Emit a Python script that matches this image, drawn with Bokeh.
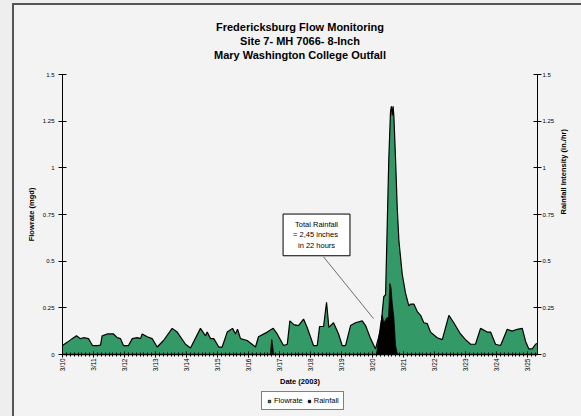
import math
from bokeh.plotting import figure
from bokeh.layouts import column
from bokeh.models import Range1d, LinearAxis, FixedTicker, Label, Legend, LegendItem, Arrow, Title
from bokeh.embed import file_html
from bokeh.resources import INLINE

# ---------------- data ----------------
title_lines = ["Fredericksburg Flow Monitoring",
               "Site 7- MH 7066- 8-Inch",
               "Mary Washington College Outfall"]
note_text = "Total Rainfall\n= 2,45  inches\nin 22 hours"
day_labels = ["3/10", "3/11", "3/12", "3/13", "3/14", "3/15", "3/16", "3/17",
              "3/18", "3/19", "3/20", "3/21", "3/22", "3/23", "3/24", "3/25"]
y_ticks = [0, 0.25, 0.5, 0.75, 1, 1.25, 1.5]
y_tick_labels = ["0", "0.25", "0.5", "0.75", "1", "1.25", "1.5"]

# hours since 3/10 00:00
flow_hours = [0, 3.6, 7.5, 10.8, 13.9, 16.3, 20.1, 23.2, 26.9, 29.4, 30.7, 34.6,
              39.5, 42.3, 44.9, 47.2, 51.1, 54.0, 57.8, 60.4, 61.7, 65.6, 69.4,
              73.3, 78.2, 84.9, 88.8, 95.2, 99.1, 106.8, 110.7, 112.0, 114.6,
              117.1, 121.0, 123.6, 127.5, 131.6, 133.9, 135.5, 137.8, 143.0,
              149.4, 151.7, 158.5, 163.1, 166.2, 171.1, 174.0, 176.0, 179.1,
              182.7, 186.6, 189.4, 194.3, 197.2, 199.0, 202.1, 204.4, 206.2,
              209.8, 213.7, 216.5, 219.1, 223.0, 226.8, 232.0, 234.6, 238.5,
              242.3, 246.2, 248.7, 250.1, 251.4, 252.6, 253.9, 254.6, 255.3,
              255.9, 256.5, 257.8, 259.1, 260.4, 263.0, 265.5, 268.1, 269.4,
              272.0, 274.6, 277.2, 279.7, 282.4, 284.9, 290.1, 294.0, 299.1,
              302.9, 308.1, 312.0, 315.9, 319.7, 323.6, 328.8, 331.4, 335.2,
              339.1, 344.3, 348.1, 352.0, 355.9, 358.5, 361.0, 363.6, 366.2, 367.7]
flow_mgd = [0.048, 0.065, 0.085, 0.10, 0.085, 0.09, 0.085, 0.048, 0.048, 0.05, 0.10, 0.11,
            0.11, 0.09, 0.085, 0.048, 0.048, 0.085, 0.09, 0.085, 0.11, 0.095, 0.085,
            0.04, 0.075, 0.14, 0.12, 0.055, 0.035, 0.14, 0.10, 0.12, 0.085,
            0.085, 0.04, 0.04, 0.12, 0.14, 0.11, 0.135, 0.085, 0.075,
            0.04, 0.095, 0.12, 0.14, 0.11, 0.048, 0.055, 0.18, 0.16,
            0.155, 0.19, 0.145, 0.048, 0.048, 0.15, 0.15, 0.28, 0.145,
            0.17, 0.11, 0.048, 0.048, 0.155, 0.17, 0.18, 0.155, 0.085,
            0.03, 0.13, 0.31, 0.32, 0.70, 1.05, 1.30, 1.33, 1.28,
            1.33, 1.28, 1.05, 0.79, 0.61, 0.43, 0.33, 0.26, 0.27,
            0.27, 0.23, 0.21, 0.17, 0.165, 0.12, 0.09, 0.08, 0.21,
            0.17, 0.11, 0.08, 0.055, 0.055, 0.14, 0.12, 0.12, 0.055,
            0.048, 0.135, 0.125, 0.135, 0.14, 0.07, 0.03, 0.03, 0.055, 0.06]

rain_hours = [0, 161.0, 161.4, 162.0, 162.8, 163.4, 243.1, 244.6, 246.2, 247.5, 248.7,
              251.4, 252.4, 253.4, 254.3, 255.3, 256.5, 257.8, 259.0, 260.1, 367.7]
rain_inhr = [0, 0, 0.04, 0.08, 0.04, 0, 0, 0.08, 0.16, 0.21, 0.17,
             0.20, 0.19, 0.38, 0.36, 0.27, 0.20, 0.05, 0.01, 0, 0]

# ---------------- figure ----------------
GREEN = "#339966"
BG = "#f3f3f3"
FONT = "Liberation Sans"

flow_days = [h / 24 for h in flow_hours]
rain_days = [h / 24 for h in rain_hours]

p = figure(width=567, height=384, output_backend="svg", toolbar_location=None,
           x_range=Range1d(0, flow_days[-1]), y_range=Range1d(0, 1.5),
           min_border_left=48, min_border_right=44, min_border_top=69, min_border_bottom=35,
           background_fill_color=BG, border_fill_color=BG, outline_line_color=None,
           title=None)
p.extra_y_ranges = {"rain": Range1d(0, 1.5)}
p.xgrid.visible = False
p.ygrid.visible = False

p.varea(x=flow_days, y1=0, y2=flow_mgd, fill_color=GREEN)
p.line(x=flow_days, y=flow_mgd, line_color="black", line_width=1.2)
p.varea(x=rain_days, y1=0, y2=rain_inhr, fill_color="black", y_range_name="rain")
p.line(x=rain_days, y=rain_inhr, line_color="black", line_width=0.8, y_range_name="rain")


def style_axis(ax):
    ax.axis_line_color = "black"
    ax.major_tick_line_color = "black"
    ax.major_label_text_font = FONT
    ax.major_label_text_color = "black"
    ax.axis_label_text_font = FONT
    ax.axis_label_text_color = "black"
    ax.axis_label_text_font_style = "bold"
    ax.axis_label_text_font_size = "7.5px"
    ax.major_label_text_font_size = "6px"


yl = p.yaxis[0]
style_axis(yl)
yl.ticker = FixedTicker(ticks=y_ticks)
yl.major_label_overrides = {t: s for t, s in zip(y_ticks, y_tick_labels)}
yl.major_tick_in = 4
yl.major_tick_out = 4
yl.minor_tick_line_color = None
yl.major_label_standoff = 4
yl.axis_label = "Flowrate (mgd)"
yl.axis_label_standoff = 4

yr = LinearAxis(y_range_name="rain")
style_axis(yr)
yr.ticker = FixedTicker(ticks=y_ticks)
yr.major_label_overrides = {t: s for t, s in zip(y_ticks, y_tick_labels)}
yr.major_tick_in = 4
yr.major_tick_out = 4
yr.minor_tick_line_color = None
yr.major_label_standoff = 1
yr.axis_label = "Rainfall Intensity (in./hr)"
yr.axis_label_standoff = 6
yr.axis_label_orientation = math.pi / 2
p.add_layout(yr, "right")

xa = p.xaxis[0]
style_axis(xa)
day_ticks = list(range(len(day_labels)))
xa.ticker = FixedTicker(ticks=day_ticks,
                        minor_ticks=[d / 8 for d in range(0, 8 * len(day_labels))])
xa.major_label_overrides = {t: s for t, s in zip(day_ticks, day_labels)}
xa.major_label_orientation = math.pi / 2
xa.major_label_text_font_size = "6.5px"
xa.major_tick_in = 3
xa.major_tick_out = 3
xa.minor_tick_in = 2
xa.minor_tick_out = 2
xa.minor_tick_line_color = "black"
xa.axis_line_width = 1.5
xa.major_label_standoff = 1
xa.axis_label = "Date (2003)"
xa.axis_label_standoff = 3

# blank spacer between plot and title block, then title lines (closest first)
p.add_layout(Title(text=" ", text_font=FONT, text_font_size="11px", standoff=0), "above")
for i, t in reversed(list(enumerate(title_lines))):
    p.add_layout(Title(text=t, align="center", offset=6, text_font=FONT,
                       text_font_style="bold", text_font_size="11px",
                       text_color="black", standoff=0), "above")

# note box and leader line
p.add_layout(Label(x=(316 - 62) / 31, y=(354 - 234) / 187.3, text=note_text,
                   text_align="center", text_baseline="middle", text_line_height=1.15,
                   text_font=FONT, text_font_size="7.5px", text_color="black",
                   border_line_color="black", border_line_width=1,
                   background_fill_color="white", padding=(10, 6)))
p.add_layout(Arrow(x_start=(323 - 62) / 31, y_start=(354 - 256) / 187.3,
                   x_end=(373 - 62) / 31, y_end=(354 - 318) / 187.3,
                   end=None, line_color="#333333", line_width=0.7))

# legend strip below the chart (legend proxies sit outside its visible range)
lg = figure(width=567, height=27, output_backend="svg", toolbar_location=None,
            x_range=Range1d(-10, -9), y_range=Range1d(10, 11),
            x_axis_type=None, y_axis_type=None,
            min_border=0, background_fill_color=BG, border_fill_color=BG,
            outline_line_color=None, title=None)
lg.xgrid.visible = False
lg.ygrid.visible = False
flow_proxy = lg.scatter(x=flow_days, y=flow_mgd, marker="square", size=6,
                        fill_color=GREEN, line_color="black", line_width=0.8)
rain_proxy = lg.scatter(x=rain_days, y=rain_inhr, marker="square", size=6,
                        fill_color="black", line_color="black", line_width=0.8)
legend = Legend(items=[LegendItem(label="Flowrate", renderers=[flow_proxy]),
                       LegendItem(label="Rainfall", renderers=[rain_proxy])],
                orientation="horizontal", location=(199, 6),
                label_text_font=FONT, label_text_font_size="7.5px",
                label_text_color="black",
                glyph_width=6, glyph_height=6, label_standoff=2, spacing=3,
                padding=4, margin=0, border_line_color="black",
                background_fill_color="white", background_fill_alpha=1,
                label_height=8)
lg.add_layout(legend)

inner = column(p, lg, spacing=0)
inner.styles = {"border-left": "2px solid #555555", "border-top": "2px solid #555555",
                "background-color": BG}
root = column(inner, spacing=0)
root.styles = {"padding": "3px 0px 0px 12px", "background-color": "#eeeeee"}

open("out.html", "w").write(file_html(root, INLINE))
